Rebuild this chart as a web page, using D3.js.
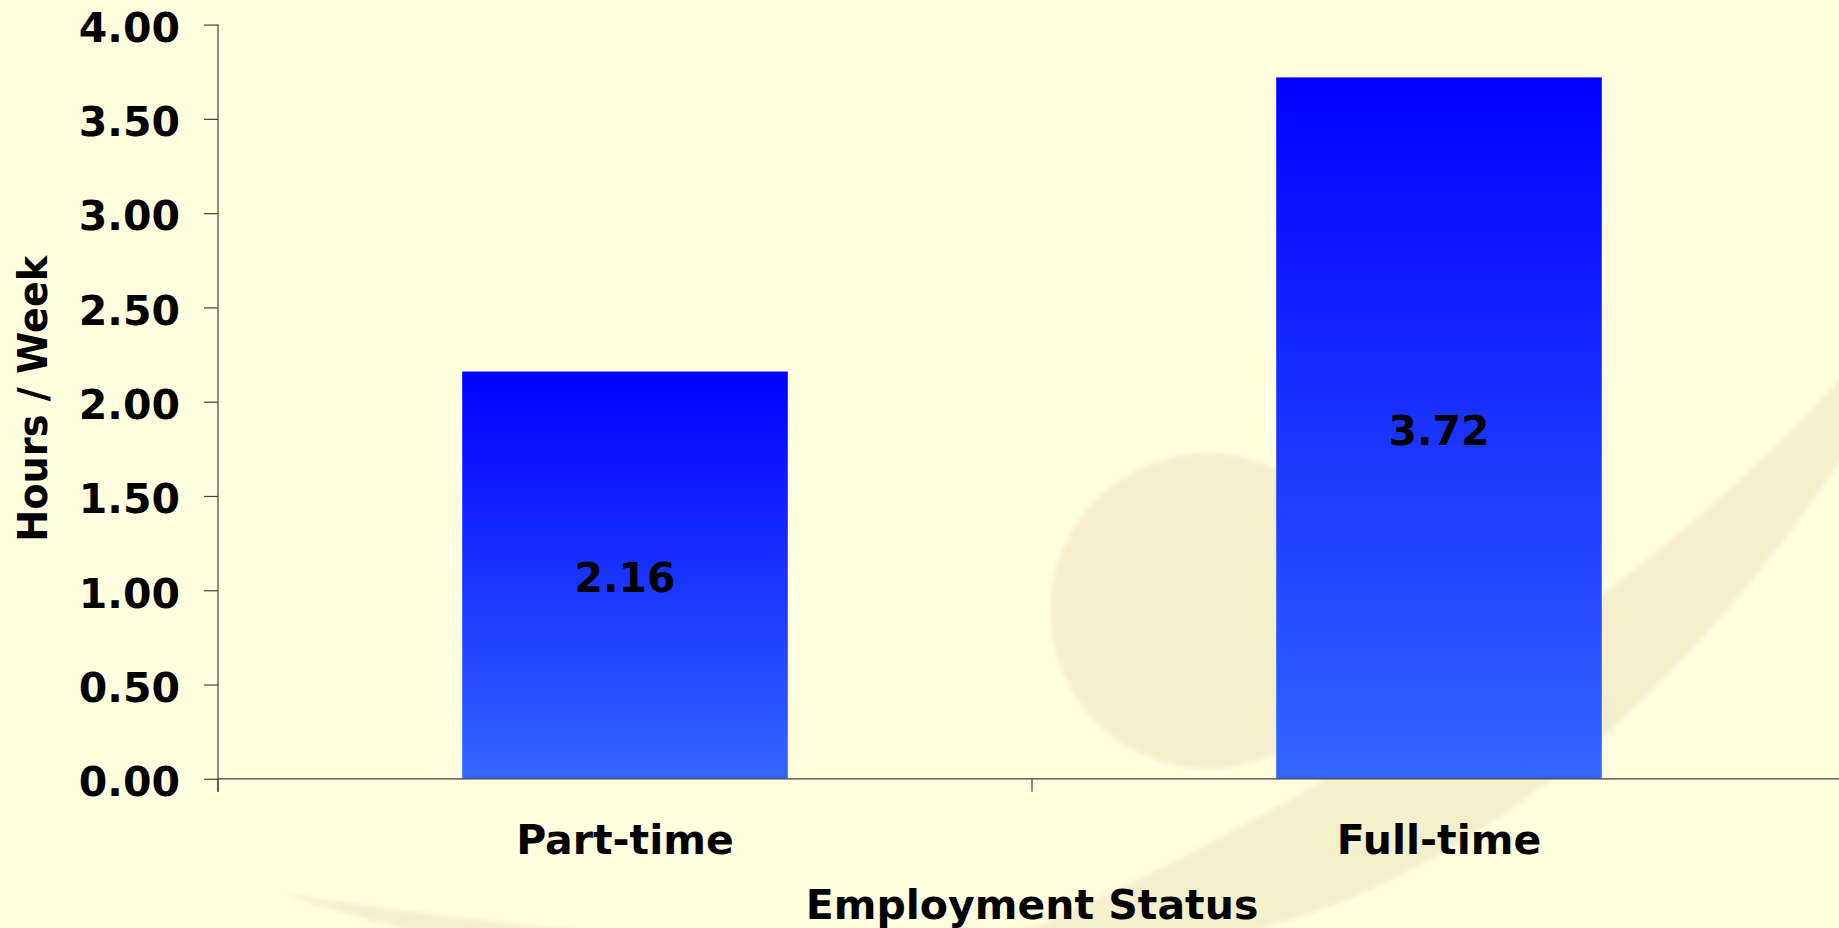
<!DOCTYPE html>
<html>
<head>
<meta charset="utf-8">
<script src="https://cdn.jsdelivr.net/npm/d3@7"></script>
<style>
  html, body { margin: 0; padding: 0; background: #FFFFE0; overflow: hidden; }
  svg { display: block; }
  text { font-family: "DejaVu Sans", Verdana, sans-serif; font-weight: bold; fill: #000; }
</style>
</head>
<body>
<script>
// ---- data ----
const categories = ["Part-time", "Full-time"];
const values = [2.16, 3.72];
const valueLabels = ["2.16", "3.72"];
const yTicks = [0, 0.5, 1, 1.5, 2, 2.5, 3, 3.5, 4];
const yTitle = "Hours / Week";
const xTitle = "Employment Status";

const W = 1839, H = 928;
const svg = d3.select("body").append("svg").attr("width", W).attr("height", H);

// background decoration
const defs = svg.append("defs");
defs.append("filter").attr("id", "soft").append("feGaussianBlur").attr("stdDeviation", 2.5);
const grad = defs.append("linearGradient").attr("id", "barGrad")
  .attr("x1", 0).attr("y1", 0).attr("x2", 0).attr("y2", 1);
grad.append("stop").attr("offset", "0%").attr("stop-color", "#0000FF");
grad.append("stop").attr("offset", "100%").attr("stop-color", "#3366FF");

svg.append("rect").attr("width", W).attr("height", H).attr("fill", "#FFFFE0");
const deco = svg.append("g").attr("fill", "#F5EFCC").attr("filter", "url(#soft)");
deco.append("ellipse").attr("cx", 1208).attr("cy", 611).attr("rx", 158).attr("ry", 158);
deco.append("path").attr("d",
  "M 280,893 C 600,940 850,960 1032,928 C 1350,790 1660,580 1839,380 L 1870,345 L 1870,430 L 1839,463 " +
  "C 1720,640 1520,860 1264,928 C 1100,1030 600,1000 280,893 Z");

// scales
const x = d3.scaleBand().domain(categories).range([218, 1846]).paddingInner(0.6).paddingOuter(0.3);
const y = d3.scaleLinear().domain([0, 4]).range([778.8, 24.6]);

// bars
svg.append("g").selectAll("rect").data(values).join("rect")
  .attr("x", (d, i) => x(categories[i]))
  .attr("width", x.bandwidth())
  .attr("y", d => y(d))
  .attr("height", d => y(0) - y(d))
  .attr("fill", "url(#barGrad)");

// value labels
svg.append("g").selectAll("text").data(values).join("text")
  .attr("x", (d, i) => x(categories[i]) + x.bandwidth() / 2)
  .attr("y", d => (y(d) + y(0)) / 2)
  .attr("dy", "0.42em")
  .attr("text-anchor", "middle")
  .style("font-size", "41px")
  .text((d, i) => valueLabels[i]);

// y axis
const yAxis = d3.axisLeft(y).tickValues(yTicks).tickFormat(d3.format(".2f"))
  .tickSize(14).tickPadding(24).tickSizeOuter(0);
const gy = svg.append("g").attr("transform", "translate(218,0)").call(yAxis);
gy.select(".domain").remove();
gy.selectAll(".tick line").attr("stroke", "#404040").attr("stroke-width", 1.2);
gy.selectAll(".tick text").attr("dy", "0.41em").style("font-size", "41px")
  .style("font-family", "'DejaVu Sans', Verdana, sans-serif").style("font-weight", "bold").attr("fill", "#000");
svg.append("line").attr("x1", 218).attr("x2", 218)
  .attr("y1", y(4)).attr("y2", y(0) + 13)
  .attr("stroke", "#404040").attr("stroke-width", 1.2);

// x axis
const x0 = x.range()[0];
svg.append("line").attr("x1", x0).attr("x2", W)
  .attr("y1", y(0)).attr("y2", y(0))
  .attr("stroke", "#404040").attr("stroke-width", 1.2);
const boundaries = d3.range(categories.length + 1).map(i => x0 + i * x.step());
svg.append("g").selectAll("line").data(boundaries).join("line")
  .attr("x1", d => d).attr("x2", d => d)
  .attr("y1", y(0)).attr("y2", y(0) + 13)
  .attr("stroke", "#404040").attr("stroke-width", 1.2);
svg.append("g").selectAll("text").data(categories).join("text")
  .attr("x", d => x(d) + x.bandwidth() / 2)
  .attr("y", 854)
  .attr("text-anchor", "middle")
  .style("font-size", "41px")
  .text(d => d);

// axis titles
svg.append("text")
  .attr("x", (x0 + x.range()[1]) / 2)
  .attr("y", 919)
  .attr("text-anchor", "middle")
  .style("font-size", "41px")
  .text(xTitle);

svg.append("text")
  .attr("transform", "translate(47," + ((y(0) + y(4)) / 2 - 3) + ") rotate(-90)")
  .attr("text-anchor", "middle")
  .attr("textLength", 286)
  .attr("lengthAdjust", "spacingAndGlyphs")
  .style("font-size", "41px")
  .text(yTitle);
</script>
</body>
</html>
